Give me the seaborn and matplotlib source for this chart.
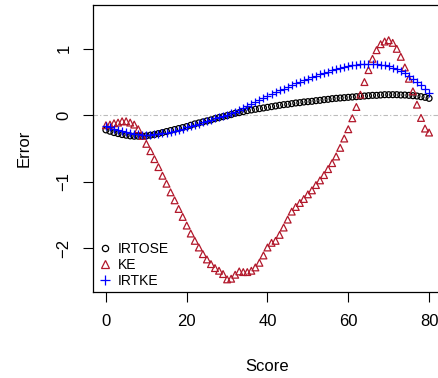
import matplotlib
matplotlib.use("Agg")
import matplotlib.pyplot as plt
from matplotlib.lines import Line2D
import seaborn as sns
import numpy as np

score = list(range(0, 81))

irtose = [-0.22, -0.24, -0.26, -0.275, -0.29, -0.30, -0.31, -0.315, -0.315, -0.315,
          -0.31, -0.30, -0.29, -0.275, -0.26, -0.245, -0.23, -0.215, -0.20, -0.185,
          -0.17, -0.15, -0.13, -0.115, -0.10, -0.085, -0.07, -0.05, -0.035, -0.02,
          -0.005, 0.01, 0.03, 0.04, 0.055, 0.07, 0.08, 0.09, 0.10, 0.11,
          0.12, 0.13, 0.14, 0.15, 0.16, 0.165, 0.175, 0.185, 0.19, 0.20,
          0.205, 0.21, 0.22, 0.225, 0.235, 0.24, 0.25, 0.255, 0.26, 0.265,
          0.27, 0.275, 0.28, 0.285, 0.29, 0.295, 0.30, 0.30, 0.305, 0.31,
          0.31, 0.31, 0.31, 0.305, 0.305, 0.30, 0.295, 0.29, 0.28, 0.27, 0.255]

ke = [-0.15, -0.14, -0.12, -0.11, -0.09, -0.09, -0.11, -0.14, -0.21, -0.31,
      -0.43, -0.54, -0.66, -0.78, -0.91, -1.03, -1.16, -1.28, -1.41, -1.53,
      -1.66, -1.78, -1.89, -1.99, -2.09, -2.17, -2.24, -2.30, -2.34, -2.39,
      -2.47, -2.46, -2.40, -2.35, -2.36, -2.36, -2.34, -2.29, -2.22, -2.11,
      -1.99, -1.92, -1.89, -1.80, -1.69, -1.57, -1.45, -1.38, -1.32, -1.26,
      -1.19, -1.13, -1.05, -0.98, -0.90, -0.81, -0.72, -0.62, -0.49, -0.35,
      -0.21, -0.045, 0.125, 0.31, 0.50, 0.68, 0.85, 0.98, 1.07, 1.11,
      1.13, 1.09, 1.00, 0.88, 0.72, 0.55, 0.36, 0.16, -0.04, -0.20, -0.26]

irtke = [-0.16, -0.18, -0.20, -0.22, -0.24, -0.255, -0.27, -0.28, -0.285, -0.29,
         -0.29, -0.29, -0.285, -0.28, -0.27, -0.26, -0.245, -0.23, -0.215, -0.20,
         -0.18, -0.165, -0.145, -0.125, -0.105, -0.085, -0.065, -0.045, -0.03, -0.015,
         0.005, 0.03, 0.055, 0.08, 0.11, 0.14, 0.17, 0.20, 0.23, 0.26,
         0.29, 0.32, 0.35, 0.375, 0.40, 0.43, 0.455, 0.48, 0.505, 0.53,
         0.55, 0.575, 0.595, 0.615, 0.635, 0.655, 0.675, 0.695, 0.71, 0.725,
         0.74, 0.75, 0.76, 0.77, 0.775, 0.775, 0.775, 0.77, 0.76, 0.75,
         0.735, 0.715, 0.69, 0.66, 0.63, 0.59, 0.55, 0.50, 0.45, 0.40, 0.34]

series_names = ["IRTOSE", "KE", "IRTKE"]
colors = ["black", "#B2182B", "#0000FF"]

sns.set_style("white")
plt.rcParams['font.family'] = ['Liberation Sans', 'DejaVu Sans']
plt.rcParams['text.color'] = 'black'
plt.rcParams['axes.labelcolor'] = 'black'
plt.rcParams['xtick.color'] = 'black'
plt.rcParams['ytick.color'] = 'black'

fig = plt.figure(figsize=(4.39, 3.78), dpi=100)
ax = fig.add_axes([93/439, (378-292)/378, (442-93)/439, (292-5)/378])

ax.axhline(0, color="#BBBBBB", lw=0.8, ls=(0, (4, 2, 1, 2)), zorder=0)

sns.scatterplot(x=score, y=irtose, ax=ax, marker='o', s=18, facecolors='none',
                edgecolor=colors[0], linewidth=0.9, zorder=3)
sns.scatterplot(x=score, y=ke, ax=ax, marker='^', s=24, facecolors='none',
                edgecolor=colors[1], linewidth=0.9, zorder=3)
sns.scatterplot(x=score, y=irtke, ax=ax, marker='+', s=38, color=colors[2],
                linewidth=0.9, zorder=4)

ax.set_xlim(-3.2, 83.2)
ax.set_ylim(-2.66, 1.66)
ax.set_xticks([0, 20, 40, 60, 80])
ax.set_yticks([-2, -1, 0, 1])
ax.set_yticklabels(["\u22122", "\u22121", "0", "1"], rotation=90, va='center')
ax.tick_params(axis='both', direction='out', length=7.5, width=0.8, labelsize=12,
               pad=8, left=True, bottom=True, color='black', labelcolor='black')
for side in ['top', 'left', 'bottom', 'right']:
    ax.spines[side].set_color('black')
    ax.spines[side].set_linewidth(0.9)

ax.set_xlabel("Score", fontsize=12, labelpad=22, color='black')
ax.set_ylabel("Error", fontsize=12, labelpad=18, color='black')

handles = [
    Line2D([], [], ls='none', marker='o', mfc='none', mec=colors[0], ms=4.5, mew=0.9),
    Line2D([], [], ls='none', marker='^', mfc='none', mec=colors[1], ms=5.5, mew=0.9),
    Line2D([], [], ls='none', marker='+', color=colors[2], ms=6.5, mew=0.9),
]
leg = ax.legend(handles, series_names, loc='lower left', frameon=False, fontsize=10,
                handlelength=1.0, handletextpad=0.4, labelspacing=0.15,
                borderaxespad=0.0, bbox_to_anchor=(0.0, -0.005))
for t in leg.get_texts():
    t.set_color('black')

fig.savefig("out.png", dpi=100)
